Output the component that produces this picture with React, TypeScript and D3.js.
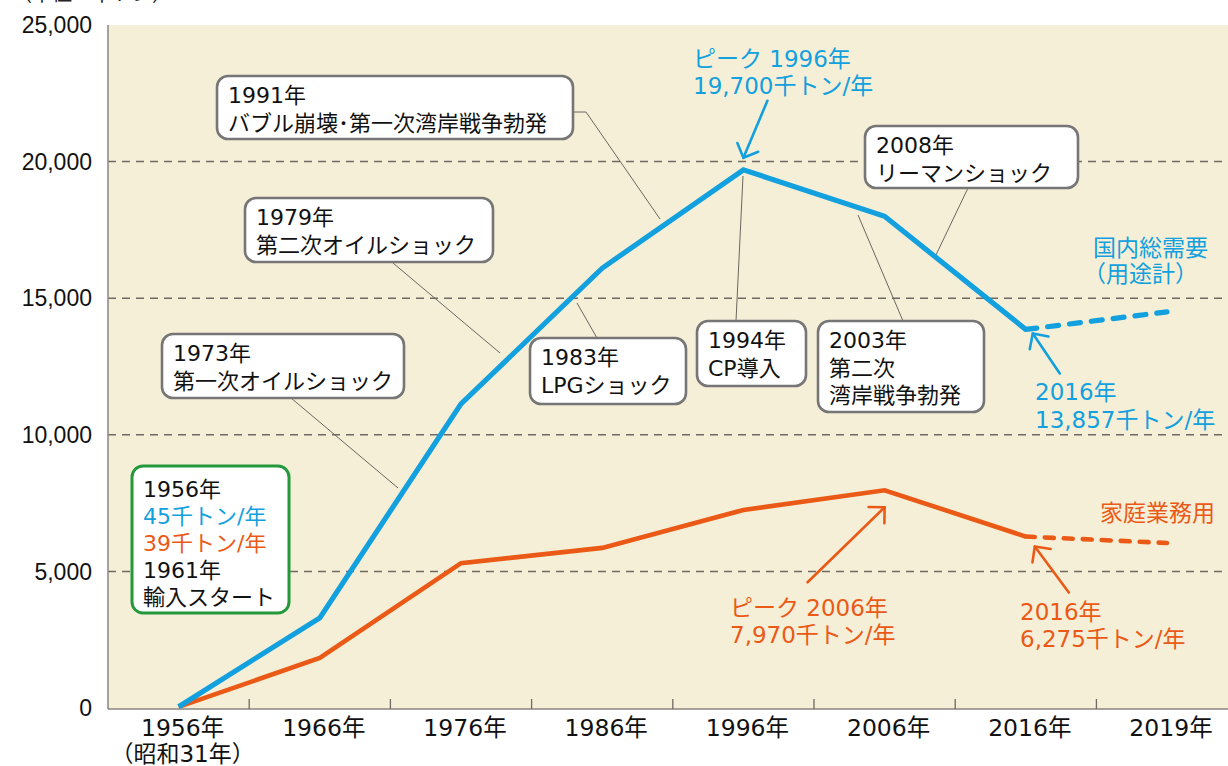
import React from "react";
import * as d3 from "d3";

// Categories on the horizontal axis
const years = ["1956", "1966", "1976", "1986", "1996", "2006", "2016", "2019"];
const yearLabels = ["1956年", "1966年", "1976年", "1986年", "1996年", "2006年", "2016年", "2019年"];
const firstYearNote = "（昭和31年）";

// Series values, thousand tonnes per year (the last point is the projected 2019 value)
const totalDemand = [45, 3300, 11130, 16100, 19700, 18000, 13857, 14500];
const household = [39, 1830, 5300, 5860, 7250, 7970, 6275, 6040];

// Value axis ticks
const yTicks = [0, 5000, 10000, 15000, 20000, 25000];
const gridTicks = [5000, 10000, 15000, 20000];

const W = 1228;
const H = 766;
const BLUE = "#12a0de";
const ORANGE = "#ea5a16";
const GREEN = "#24993c";
const BG = "#f6efd7";
const FONT = '"DejaVu Sans", "Noto Sans CJK JP", sans-serif';
const AXIS_FONT = '"Liberation Sans", "Noto Sans CJK JP", sans-serif';

// Event callouts: box geometry and leader line path
const callouts = [
  { x: 217, y: 76, w: 356, h: 63, lines: ["1991年", "バブル崩壊･第一次湾岸戦争勃発"], leader: [[573, 112], [586, 112], [660, 219]] },
  { x: 245, y: 198, w: 248, h: 64, lines: ["1979年", "第二次オイルショック"], leader: [[393, 263], [500, 353]] },
  { x: 162, y: 334, w: 242, h: 64, lines: ["1973年", "第一次オイルショック"], leader: [[291, 398], [398, 488]] },
  { x: 530, y: 338, w: 156, h: 66, lines: ["1983年", "LPGショック"], leader: [[597, 338], [577, 303]] },
  { x: 697, y: 321, w: 109, h: 65, lines: ["1994年", "CP導入"], leader: [[736, 321], [743, 176]] },
  { x: 818, y: 321, w: 166, h: 91, lines: ["2003年", "第二次", "湾岸戦争勃発"], leader: [[903, 321], [858, 215]] },
  { x: 865, y: 126, w: 213, h: 62, lines: ["2008年", "リーマンショック"], leader: [[968, 188], [935, 257]] },
];

const fmt = d3.format(",");

function Arrow({ tail, tip, color }: { tail: [number, number]; tip: [number, number]; color: string }) {
  const ang = Math.atan2(tail[1] - tip[1], tail[0] - tip[0]);
  const len = 16;
  const a1 = ang + Math.PI / 4;
  const a2 = ang - Math.PI / 4;
  const w1: [number, number] = [tip[0] + len * Math.cos(a1), tip[1] + len * Math.sin(a1)];
  const w2: [number, number] = [tip[0] + len * Math.cos(a2), tip[1] + len * Math.sin(a2)];
  return (
    <g stroke={color} strokeWidth={2.6} fill="none" strokeLinecap="round" strokeLinejoin="round">
      <line x1={tail[0]} y1={tail[1]} x2={tip[0]} y2={tip[1]} />
      <polyline points={`${w1[0]},${w1[1]} ${tip[0]},${tip[1]} ${w2[0]},${w2[1]}`} />
    </g>
  );
}

export default function App() {
  const x = d3.scaleBand<string>().domain(years).range([108, 1237.6]).padding(0);
  const cx = (yr: string) => (x(yr) as number) + x.bandwidth() / 2;
  const y = d3.scaleLinear().domain([0, 25000]).range([708, 25]);

  const pts = (vals: number[]) => years.map((yr, i) => [cx(yr), y(vals[i])] as [number, number]);
  const line = d3.line<[number, number]>().x((d) => d[0]).y((d) => d[1]);

  const blue = pts(totalDemand);
  const orange = pts(household);
  const nSolid = 7;

  const plotLeft = 108;
  const plotTop = y(25000);
  const plotBottom = y(0) + 1;

  const bPeak = blue[4];
  const bLast = blue[6];
  const oPeak = orange[5];
  const oLast = orange[6];

  return (
    <svg
      width={W}
      height={H}
      viewBox={`0 0 ${W} ${H}`}
      style={{ position: "absolute", left: 0, top: 0, display: "block", background: "#ffffff" }}
      fontFamily={FONT}
    >
      {/* unit caption */}
      <text x={12} y={1} fontSize={20} fill="#222">（単位：千トン）</text>

      {/* plot background */}
      <rect x={plotLeft} y={plotTop} width={W - plotLeft} height={plotBottom - plotTop} fill={BG} />

      {/* grid */}
      {gridTicks.map((t) => (
        <line key={t} x1={plotLeft} x2={W} y1={y(t)} y2={y(t)} stroke="#6e6a62" strokeWidth={1.5} strokeDasharray="8 6" />
      ))}

      {/* axes */}
      <line x1={plotLeft} x2={plotLeft} y1={plotTop} y2={plotBottom} stroke="#8a8680" strokeWidth={1.5} />
      <line x1={plotLeft} x2={W} y1={plotBottom} y2={plotBottom} stroke="#8a8680" strokeWidth={1.5} />
      {years.slice(1).map((yr) => (
        <line key={yr} x1={x(yr)} x2={x(yr)} y1={plotBottom} y2={plotBottom - 10} stroke="#6e6a62" strokeWidth={1.3} />
      ))}

      {yTicks.map((t) => (
        <text key={t} x={92} y={y(t)} dy="0.36em" textAnchor="end" fontSize={23} fill="#111" fontFamily={AXIS_FONT}>
          {fmt(t)}
        </text>
      ))}
      {years.map((yr, i) => (
        <text key={yr} x={cx(yr) + 4} y={736} textAnchor="middle" fontSize={23.5} fill="#111">
          {yearLabels[i]}
        </text>
      ))}
      <text x={cx(years[0]) + 4} y={762} textAnchor="middle" fontSize={23} fill="#111">
        {firstYearNote}
      </text>

      {/* leader lines */}
      {callouts.map((c, i) => (
        <polyline key={i} points={c.leader.map((p) => p.join(",")).join(" ")} fill="none" stroke="#6a6660" strokeWidth={1} />
      ))}

      {/* series lines */}
      <path d={line(orange.slice(0, nSolid)) as string} fill="none" stroke={ORANGE} strokeWidth={4.6} strokeLinejoin="miter" />
      <path d={line(orange.slice(nSolid - 1)) as string} fill="none" stroke={ORANGE} strokeWidth={4.6} strokeDasharray="9 10" strokeLinecap="round" />
      <path d={line(blue.slice(0, nSolid)) as string} fill="none" stroke={BLUE} strokeWidth={5.2} strokeLinejoin="miter" />
      <path d={line(blue.slice(nSolid - 1)) as string} fill="none" stroke={BLUE} strokeWidth={5.2} strokeDasharray="11 11" strokeLinecap="round" />

      {/* callout boxes */}
      {callouts.map((c, i) => (
        <g key={i}>
          <rect x={c.x} y={c.y} width={c.w} height={c.h} rx={11} fill="#fff" stroke="#767676" strokeWidth={2.6} />
          {c.lines.map((t, j) => (
            <text key={j} x={c.x + 11} y={c.y + 27 + j * 27.5} fontSize={22} fill="#111">
              {t}
            </text>
          ))}
        </g>
      ))}

      {/* start-of-series box */}
      <g fontSize={22}>
        <rect x={132} y={466} width={157} height={147} rx={11} fill="#fff" stroke={GREEN} strokeWidth={3} />
        <text x={143} y={497} fill="#111">1956年</text>
        <text x={143} y={524} fill={BLUE}>{`${fmt(totalDemand[0])}千トン/年`}</text>
        <text x={143} y={551} fill={ORANGE}>{`${fmt(household[0])}千トン/年`}</text>
        <text x={143} y={578} fill="#111">1961年</text>
        <text x={143} y={605} fill="#111">輸入スタート</text>
      </g>

      {/* peak and latest value annotations: total demand */}
      <g fontSize={23} fill={BLUE}>
        <Arrow tail={[bPeak[0] + 24, bPeak[1] - 69]} tip={[bPeak[0], bPeak[1] - 12]} color={BLUE} />
        <text x={693} y={67}>ピーク 1996年</text>
        <text x={693} y={94}>{`${fmt(totalDemand[4])}千トン/年`}</text>

        <Arrow tail={[bLast[0] + 34, bLast[1] + 44]} tip={[bLast[0] + 7, bLast[1] + 4]} color={BLUE} />
        <text x={1035} y={400}>2016年</text>
        <text x={1035} y={428}>{`${fmt(totalDemand[6])}千トン/年`}</text>

        <text x={1093} y={256}>国内総需要</text>
        <text x={1083} y={282}>（用途計）</text>
      </g>

      {/* peak and latest value annotations: household/commercial */}
      <g fontSize={23} fill={ORANGE}>
        <Arrow tail={[oPeak[0] - 77, oPeak[1] + 92]} tip={[oPeak[0], oPeak[1] + 17]} color={ORANGE} />
        <text x={730} y={616}>ピーク 2006年</text>
        <text x={730} y={643}>{`${fmt(household[5])}千トン/年`}</text>

        <Arrow tail={[oLast[0] + 43, oLast[1] + 56]} tip={[oLast[0] + 9, oLast[1] + 10]} color={ORANGE} />
        <text x={1020} y={620}>2016年</text>
        <text x={1020} y={647}>{`${fmt(household[6])}千トン/年`}</text>

        <text x={1100} y={521}>家庭業務用</text>
      </g>
    </svg>
  );
}
